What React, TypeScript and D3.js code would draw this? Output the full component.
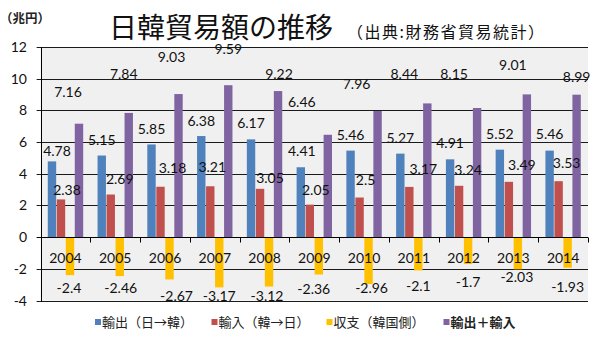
import React from "react";
import * as d3 from "d3";

// ---- data ----
const years = ["2004", "2005", "2006", "2007", "2008", "2009", "2010", "2011", "2012", "2013", "2014"];
const exportsJK = [4.78, 5.15, 5.85, 6.38, 6.17, 4.41, 5.46, 5.27, 4.91, 5.52, 5.46];
const importsJK = [2.38, 2.69, 3.18, 3.21, 3.05, 2.05, 2.5, 3.17, 3.24, 3.49, 3.53];
const balanceKR = [-2.4, -2.46, -2.67, -3.17, -3.12, -2.36, -2.96, -2.1, -1.7, -2.03, -1.93];
const totalTrade = [7.16, 7.84, 9.03, 9.59, 9.22, 6.46, 7.96, 8.44, 8.15, 9.01, 8.99];
const yTicks = [-4, -2, 0, 2, 4, 6, 8, 10, 12];
const seriesNames = ["輸出（日→韓）", "輸入（韓→日）", "収支（韓国側）", "輸出＋輸入"];
const titleText = "日韓貿易額の推移";
const sourceText = "（出典:財務省貿易統計）";
const unitText = "（兆円）";

// ---- styling / manual label placement (px nudges, as in the original chart) ----
const colors = ["#4f81bd", "#c0504d", "#ffc000", "#8064a2"];
const labelDx = [
  [5, 0, 0, 0, 0, 1, 0, 0, 0, 0, 0],
  [6, 9, 12, 2, 10, 6, 6, 14, 9, 13, 8],
  [-1, 1, 7, 0, -2, -5, 3, 0, 0, -1, 0],
  [-11, -5, -7, 0, 1, -26, -21, -23, -23, -14, 0],
];
const labelDy = [
  [6, 0, 1, 1, 0, 0, 0, 0, 0, 0, -1],
  [7, 0, -3, -3, 5, 1, -2, -2, 0, -1, -2],
  [4, 3, 8, 0, 0, 5, -5, 7, 9, -1, 10],
  [-16, -23, -21, -20, -1, -17, -11, -13, -18, -13, -2],
];
const legendX = [95, 211.5, 326.5, 443.5];

const W = 600;
const H = 346;
const plotL = 40.6;
const plotR = 588;
const plotT = 47;
const plotB = 300.5;
const numFont = "Lato, 'Noto Sans', sans-serif";
const cjkFont = "'Noto Sans CJK JP', 'Noto Sans', sans-serif";

export default function App() {
  const series = [exportsJK, importsJK, balanceKR, totalTrade];
  const x = d3.scaleBand<string>().domain(years).range([plotL, plotR]).padding(0);
  const inner = d3
    .scaleBand<number>()
    .domain([0, 1, 2, 3])
    .range([-18, 18])
    .padding(0);
  const y = d3.scaleLinear().domain([-4, 12]).range([plotB, plotT]);
  const barW = 8.4;
  const y0 = Math.round(y(0)) + 0.5;

  return (
    <svg
      width={W}
      height={H}
      style={{ position: "absolute", left: 0, top: 0, background: "#fff" }}
    >
      <rect x={plotL} y={plotT} width={plotR - plotL} height={plotB - plotT} fill="#f0f0f0" />
      {/* gridlines */}
      {yTicks
        .filter((t) => t !== 0)
        .map((t) => {
          const yy = Math.round(y(t)) + 0.5;
          return (
            <g key={"g" + t}>
              <line x1={plotL - 4} x2={plotR} y1={yy} y2={yy} stroke="#1a1a1a" strokeWidth={1} />
            </g>
          );
        })}
      {/* bars */}
      {series.map((vals, k) =>
        vals.map((v, i) => {
          const cx = (x(years[i]) as number) + x.bandwidth() / 2 + (inner(k) as number) + inner.bandwidth() / 2;
          const top = Math.min(y(v), y(0));
          const h = Math.abs(y(v) - y(0));
          return (
            <rect
              key={`b${k}-${i}`}
              x={cx - barW / 2}
              y={top}
              width={barW}
              height={h}
              fill={colors[k]}
            />
          );
        })
      )}
      {/* zero axis */}
      <line x1={plotL - 4} x2={plotR} y1={y0} y2={y0} stroke="#000" strokeWidth={1} />
      {years.map((yr, i) => {
        const xx = Math.round((x(yr) as number) + x.bandwidth()) + 0.5;
        return <line key={"t" + i} x1={xx} x2={xx} y1={y0} y2={y0 + 5} stroke="#000" />;
      })}
      {/* left axis */}
      <line
        x1={Math.round(plotL) + 0.5}
        x2={Math.round(plotL) + 0.5}
        y1={Math.round(y(12))}
        y2={Math.round(y(-4)) + 1}
        stroke="#000"
      />
      {yTicks.map((t) => (
        <text
          key={"yt" + t}
          x={27}
          y={y(t) + 5}
          textAnchor="end"
          fontFamily={numFont}
          fontSize={14}
          fill="#111"
        >
          {t}
        </text>
      ))}
      {/* category labels */}
      {years.map((yr) => (
        <text
          key={"yl" + yr}
          x={(x(yr) as number) + x.bandwidth() / 2}
          y={263}
          textAnchor="middle"
          fontFamily={numFont}
          fontSize={14}
          fill="#111"
        >
          {yr}
        </text>
      ))}
      {/* data labels */}
      {series.map((vals, k) =>
        vals.map((v, i) => {
          const cx = (x(years[i]) as number) + x.bandwidth() / 2 + (inner(k) as number) + inner.bandwidth() / 2;
          const base = v >= 0 ? y(v) - 11 : y(v) + 14;
          return (
            <text
              key={`l${k}-${i}`}
              x={cx + labelDx[k][i]}
              y={base + labelDy[k][i]}
              textAnchor="middle"
              fontFamily={numFont}
              fontSize={14}
              fill="#111"
            >
              {String(v)}
            </text>
          );
        })
      )}
      {/* titles */}
      <text x={109} y={38} fontFamily={cjkFont} fontSize={28} fill="#111">
        {titleText}
      </text>
      <text x={347} y={38} fontFamily={cjkFont} fontSize={16} letterSpacing={1.5} fill="#111">
        {sourceText}
      </text>
      <text x={0} y={23} fontFamily={cjkFont} fontSize={12.5} fontWeight={700} fill="#222">
        {unitText}
      </text>
      {/* legend */}
      {seriesNames.map((name, k) => (
        <g key={"lg" + k}>
          <rect x={legendX[k]} y={319} width={6} height={6} fill={colors[k]} />
          <text
            x={legendX[k] + 7}
            y={327}
            fontFamily={cjkFont}
            fontSize={13}
            fontWeight={k === 3 ? 700 : 400}
            fill="#222"
          >
            {name}
          </text>
        </g>
      ))}
    </svg>
  );
}
